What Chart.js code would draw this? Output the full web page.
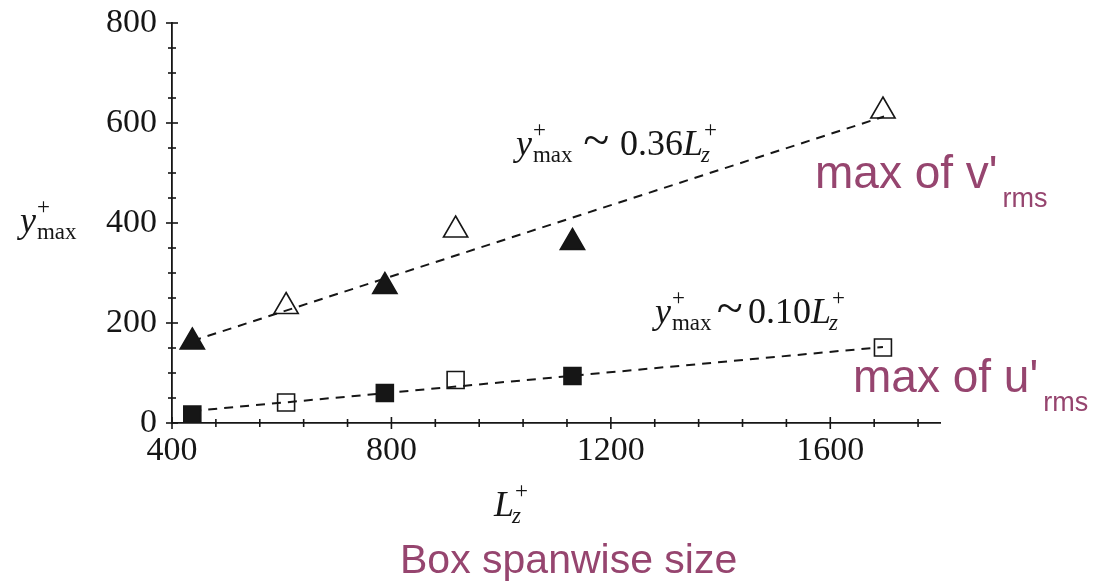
<!DOCTYPE html>
<html>
<head>
<meta charset="utf-8">
<script src="https://cdn.jsdelivr.net/npm/chart.js@4.4.1/dist/chart.umd.min.js"></script>
<style>
  html, body { margin: 0; padding: 0; background: #fff; }
  #chart { display: block; }
</style>
</head>
<body>
<canvas id="chart" width="1101" height="587"></canvas>
<script>
// Location of the rms peaks (y+max) against box spanwise size L+z
const lzFilled = [437, 788, 1130];
const lzOpen = [608, 917, 1696];
const uPeakFilled = [17, 60, 94];
const uPeakOpen = [41, 86, 151];
const vPeakFilled = [162, 273, 361];
const vPeakOpen = [233, 386, 624];

// dashed fits, given by their end points
const vFitLz = [437, 1698];
const vFitY = [164, 613];
const uFitLz = [437, 1696];
const uFitY = [24, 152];

const xMajorTicks = [400, 800, 1200, 1600];
const xMinorTicks = [480, 560, 640, 720, 880, 960, 1040, 1120, 1280, 1360, 1440, 1520, 1680, 1760];
const yMajorTicks = [0, 200, 400, 600, 800];
const yMinorTicks = [50, 100, 150, 250, 300, 350, 450, 500, 550, 650, 700, 750];

const SERIF = '"Liberation Serif", "Times New Roman", serif';
const SANS = '"Liberation Sans", Arial, sans-serif';
const INK = '#161616';
const PLUM = '#96456f';

const pts = (xs, ys) => xs.map((v, i) => ({ x: v, y: ys[i] }));

function markerSet(xs, ys, style, filled, radius) {
  return {
    data: pts(xs, ys),
    showLine: false,
    pointStyle: style,
    pointRadius: radius,
    pointBorderWidth: 1.6,
    pointBorderColor: INK,
    pointBackgroundColor: filled ? INK : 'rgba(0,0,0,0)'
  };
}

function fitSet(xs, ys) {
  return {
    data: pts(xs, ys),
    showLine: true,
    pointRadius: 0,
    borderColor: INK,
    borderWidth: 2,
    borderDash: [9, 7],
    fill: false
  };
}

// axis ticks that cross the axis line, like the original plot
const crossTicks = {
  id: 'crossTicks',
  afterDraw(chart) {
    const { ctx, chartArea, scales } = chart;
    const ax = chartArea.left;
    const ay = chartArea.bottom;
    ctx.save();
    ctx.strokeStyle = INK;
    ctx.lineWidth = 1.6;
    const tick = (p, half, horiz) => {
      ctx.beginPath();
      if (horiz) {
        ctx.moveTo(p, ay - half);
        ctx.lineTo(p, ay + half);
      } else {
        ctx.moveTo(ax - half, p);
        ctx.lineTo(ax + half, p);
      }
      ctx.stroke();
    };
    xMajorTicks.forEach(v => tick(scales.x.getPixelForValue(v), 6, true));
    xMinorTicks.forEach(v => tick(scales.x.getPixelForValue(v), 4, true));
    yMajorTicks.forEach(v => tick(scales.y.getPixelForValue(v), 6, false));
    yMinorTicks.forEach(v => tick(scales.y.getPixelForValue(v), 4, false));
    ctx.restore();
  }
};

// y+max style symbol: italic base with stacked superscript / subscript
function symbol(ctx, x, base, size, letter, sub) {
  const small = Math.round(size * 0.64);
  ctx.font = `italic ${size}px ${SERIF}`;
  ctx.fillText(letter, x, base);
  const sx = x + ctx.measureText(letter).width + 1;
  ctx.font = `${small}px ${SERIF}`;
  ctx.fillText('+', sx, base - size * 0.5);
  if (sub === 'z') ctx.font = `italic ${small}px ${SERIF}`;
  ctx.fillText(sub, sx - (sub === 'z' ? 3 : 0), base + size * 0.2);
  return sx + Math.max(ctx.measureText(sub).width, ctx.measureText('+').width);
}

function fitLabel(ctx, x, base, coeffX, coeff) {
  const size = 36;
  const end = symbol(ctx, x, base, size, 'y', 'max');
  ctx.font = `48px ${SERIF}`;
  const tw = ctx.measureText('~').width;
  ctx.fillText('~', (end + coeffX - tw) / 2, base + 1);
  ctx.font = `${size}px ${SERIF}`;
  ctx.fillText(coeff, coeffX, base);
  symbol(ctx, coeffX + ctx.measureText(coeff).width, base, size, 'L', 'z');
}

function rmsLabel(ctx, text, x, base) {
  ctx.font = `46px ${SANS}`;
  ctx.fillText(text, x, base);
  const w = ctx.measureText(text).width;
  ctx.font = `27px ${SANS}`;
  ctx.fillText('rms', x + w + 5, base + 19);
}

const annotations = {
  id: 'annotations',
  afterDraw(chart) {
    const { ctx } = chart;
    ctx.save();
    ctx.textBaseline = 'alphabetic';
    ctx.textAlign = 'left';
    ctx.fillStyle = INK;

    // axis titles
    symbol(ctx, 20, 232, 36, 'y', 'max');
    symbol(ctx, 494, 516, 36, 'L', 'z');

    // fit laws
    fitLabel(ctx, 516, 155, 620, '0.36');
    fitLabel(ctx, 655, 323, 748, '0.10');

    // coloured notes
    ctx.fillStyle = PLUM;
    rmsLabel(ctx, "max of v'", 815, 188);
    rmsLabel(ctx, "max of u'", 853, 392);
    ctx.font = `41px ${SANS}`;
    ctx.fillText('Box spanwise size', 400, 573);
    ctx.restore();
  }
};

// keep the plot box fixed: no extra room reserved for overhanging tick labels
function noOverhang(axis) {
  axis.paddingTop = 0;
  axis.paddingBottom = 0;
  axis.paddingLeft = 0;
  axis.paddingRight = 0;
}

new Chart(document.getElementById('chart'), {
  type: 'scatter',
  data: {
    datasets: [
      markerSet(lzFilled, vPeakFilled, 'triangle', true, 14),
      markerSet(lzOpen, vPeakOpen, 'triangle', false, 14),
      markerSet(lzFilled, uPeakFilled, 'rect', true, 12),
      markerSet(lzOpen, uPeakOpen, 'rect', false, 12),
      fitSet(vFitLz, vFitY),
      fitSet(uFitLz, uFitY)
    ]
  },
  options: {
    responsive: false,
    animation: false,
    devicePixelRatio: 1,
    layout: { padding: { top: 23, right: 161, bottom: 0, left: 0 } },
    plugins: {
      legend: { display: false },
      tooltip: { enabled: false }
    },
    scales: {
      x: {
        type: 'linear',
        min: 400,
        max: 1800,
        afterBuildTicks: axis => { axis.ticks = xMajorTicks.map(v => ({ value: v })); },
        afterFit: axis => { axis.height = 164; noOverhang(axis); },
        grid: { display: false, drawTicks: false },
        border: { display: true, color: INK, width: 1.8 },
        ticks: {
          padding: 8,
          maxRotation: 0,
          color: INK,
          font: { family: SERIF, size: 34 },
          callback: v => String(v)
        }
      },
      y: {
        type: 'linear',
        min: 0,
        max: 800,
        afterBuildTicks: axis => { axis.ticks = yMajorTicks.map(v => ({ value: v })); },
        afterFit: axis => { axis.width = 172; noOverhang(axis); },
        grid: { display: false, drawTicks: false },
        border: { display: true, color: INK, width: 1.8 },
        ticks: {
          padding: 15,
          color: INK,
          font: { family: SERIF, size: 34 },
          callback: v => String(v)
        }
      }
    }
  },
  plugins: [crossTicks, annotations]
});
</script>
</body>
</html>
